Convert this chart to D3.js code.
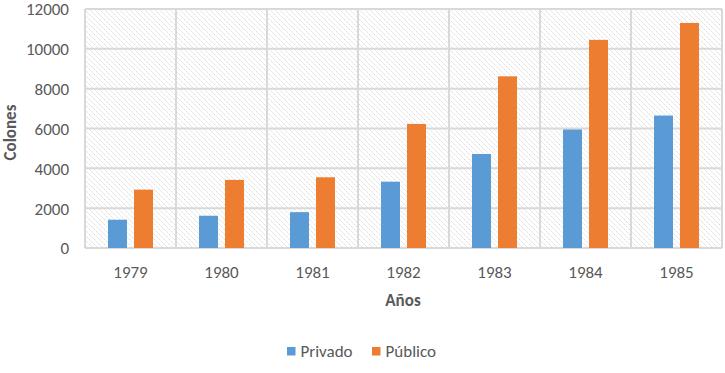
<!DOCTYPE html>
<html><head><meta charset="utf-8">
<script src="https://cdn.jsdelivr.net/npm/d3@7"></script>
<style>body{margin:0;background:#fff;} text{font-family:Carlito,"Open Sans","Liberation Sans",sans-serif;}</style>
</head><body>
<svg id="c" width="725" height="373"></svg>
<script>
const years = ["1979","1980","1981","1982","1983","1984","1985"];
const privado = [1420, 1620, 1800, 3330, 4720, 5950, 6650];
const publico = [2930, 3420, 3550, 6230, 8620, 10450, 11300];
const seriesNames = ["Privado", "Público"];
const colors = ["#5B9BD5", "#ED7D31"];
const yTicks = [0, 2000, 4000, 6000, 8000, 10000, 12000];

const svg = d3.select("#c");
const m = {l:85, r:3, t:9, b:125};
const W = 725, H = 373;
const x = d3.scaleBand().domain(years).range([m.l, W - m.r]);
const y = d3.scaleLinear().domain([0, 12000]).range([H - m.b, m.t]);

const defs = svg.append("defs");
const pat = defs.append("pattern").attr("id","hatch").attr("patternUnits","userSpaceOnUse")
  .attr("width",5).attr("height",5);
pat.append("path").attr("d","M-1,-1 L6,6 M-1,4 L1,6 M4,-1 L6,1").attr("stroke","#d6d6d6").attr("stroke-width",0.9).attr("stroke-dasharray","2,1.2");

svg.append("rect").attr("x",m.l).attr("y",m.t).attr("width",W-m.r-m.l).attr("height",H-m.b-m.t).attr("fill","url(#hatch)");

// gridlines
svg.append("g").selectAll("line").data(yTicks).join("line")
  .attr("x1",m.l).attr("x2",W-m.r).attr("y1",d=>y(d)).attr("y2",d=>y(d))
  .attr("stroke","#d9d9d9").attr("stroke-width",2);
const bounds = years.map(d=>x(d)).concat([x(years[years.length-1])+x.bandwidth()]);
svg.append("g").selectAll("line").data(bounds).join("line")
  .attr("x1",d=>d).attr("x2",d=>d).attr("y1",m.t).attr("y2",H-m.b)
  .attr("stroke","#d9d9d9").attr("stroke-width",2);

const inner = d3.scaleBand().domain(seriesNames).range([0, x.bandwidth()]).paddingInner(0.27).paddingOuter(0.885);
const data = [privado, publico];
seriesNames.forEach((s, si) => {
  svg.append("g").selectAll("rect").data(years).join("rect")
    .attr("x", d => x(d) + inner(s))
    .attr("width", inner.bandwidth())
    .attr("y", (d,i) => y(data[si][i]))
    .attr("height", (d,i) => y(0) - y(data[si][i]))
    .attr("fill", colors[si]);
});

// y axis labels
const ya = svg.append("g").attr("transform",`translate(${m.l-16},0)`)
  .call(d3.axisLeft(y).tickValues(yTicks).tickSize(0).tickPadding(0).tickFormat(d3.format("d")));
ya.select(".domain").remove();
ya.selectAll("text").attr("font-size",17).attr("fill","#595959").attr("dy","0.35em").style("font-family",'Carlito,"Open Sans",sans-serif');

const xa = svg.append("g").attr("transform",`translate(0,${272})`)
  .call(d3.axisBottom(x).tickSize(0).tickPadding(0));
xa.select(".domain").remove();
xa.selectAll("text").attr("font-size",17).attr("fill","#595959").attr("dy","0.35em").attr("y",0).style("font-family",'Carlito,"Open Sans",sans-serif');

svg.append("text").attr("transform","translate(10.5,132.5) rotate(-90)").attr("text-anchor","middle").attr("dy","0.35em")
  .attr("font-size",17).attr("font-weight","bold").attr("fill","#595959").text("Colones");
svg.append("text").attr("x",403).attr("y",300).attr("dy","0.35em").attr("text-anchor","middle")
  .attr("font-size",17).attr("font-weight","bold").attr("fill","#595959").text("Años");

// legend
const lg = svg.append("g");
const lx = [287, 372];
seriesNames.forEach((s, i) => {
  lg.append("rect").attr("x",lx[i]).attr("y",347).attr("width",8.5).attr("height",8.5).attr("fill",colors[i]);
  lg.append("text").attr("x",lx[i]+13.5).attr("y",351.5).attr("dy","0.35em").attr("font-size",17).attr("fill","#595959").text(s);
});
</script>
</body></html>
